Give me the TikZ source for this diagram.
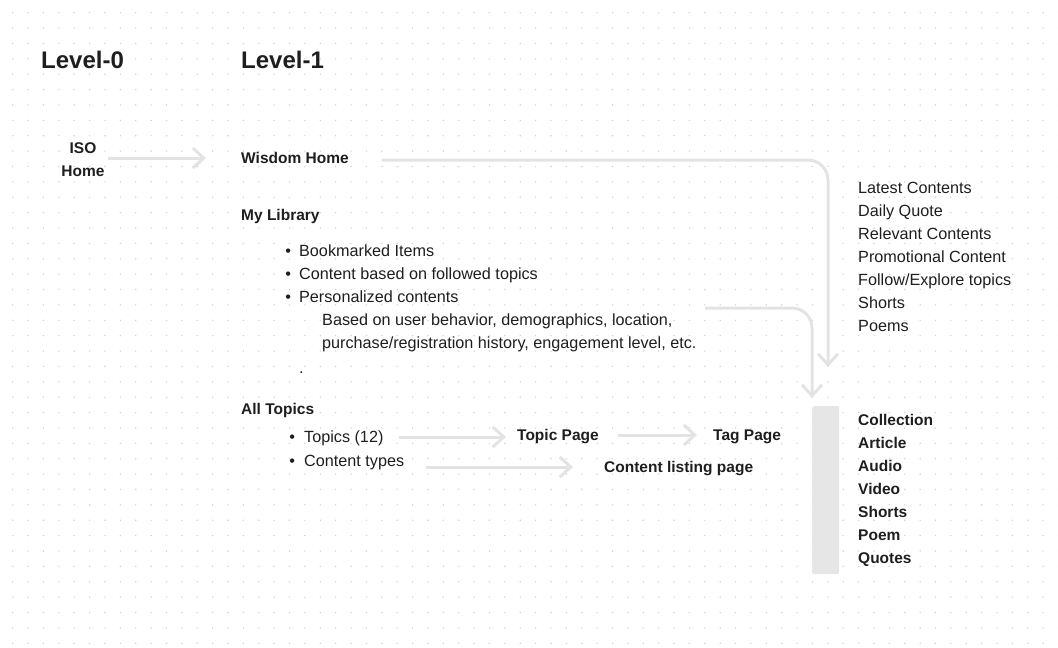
\documentclass[tikz,border=0pt]{standalone}
\usepackage{fontspec}
\setmainfont{Liberation Sans}
\usepackage{tikz}
\usetikzlibrary{arrows.meta}
\usetikzlibrary{calc}
\definecolor{ink}{HTML}{1E1E1E}
\definecolor{flowgray}{HTML}{E3E3E3}
\definecolor{dotgray}{HTML}{D2D2D2}
\definecolor{barfill}{HTML}{E6E6E6}
\tikzset{txt/.style={inner sep=0pt, text height=1.05em, text depth=0pt, anchor=west, text=ink, font=\fontsize{16.2}{23}\selectfont}}
\tikzset{head/.style={txt, font=\fontsize{15.5}{23}\selectfont\bfseries}}
\tikzset{title/.style={txt, text height=1.3em, font=\fontsize{24}{28}\selectfont\bfseries}}
\tikzset{isobox/.style={inner sep=0pt, align=center, text=ink, font=\fontsize{15.5}{23}\selectfont\bfseries}}
\tikzset{flow/.style={draw=flowgray, line width=3pt, -{Straight Barb[length=11pt,width=20pt]}}}

\begin{document}
\begin{tikzpicture}[x=1pt,y=-1pt]
  \useasboundingbox (0,0) rectangle (1058,648);
  % dot grid
  \foreach \i in {0,...,68} {
    \foreach \j in {0,...,41} {
      \fill[dotgray] (12.7+15.38*\i, 12.7+15.38*\j) circle[radius=0.8pt];
    }
  }

  \node[title] (lvl0) at (41,62) {Level-0};
  \node[title] (lvl1) at (241,62) {Level-1};

  \node[isobox] (iso) at (83,159.5) {ISO\\Home};
  \node[head] (wis) at (241,158) {Wisdom Home};
  \node[head] (lib) at (241,215) {My Library};

  \node[txt] (book) at (277,251) {\makebox[22pt][c]{\textbullet}Bookmarked Items};
  \node[txt] (foll) at (277,274) {\makebox[22pt][c]{\textbullet}Content based on followed topics};
  \node[txt] (pers) at (277,297) {\makebox[22pt][c]{\textbullet}Personalized contents};
  \node[txt] (based1) at (322,320) {Based on user behavior, demographics, location,};
  \node[txt] (based2) at (322,343) {purchase/registration history, engagement level, etc.};
  \node[txt] (stop) at (299,368) {.};

  \node[head] (all) at (241,409) {All Topics};
  \node[txt] (topics) at (280,437) {\makebox[24pt][c]{\textbullet}Topics (12)};
  \node[txt] (ctypes) at (280,461) {\makebox[24pt][c]{\textbullet}Content types};
  \node[head] (tpage) at (517,435) {Topic Page};
  \node[head] (tag) at (713,435) {Tag Page};
  \node[head] (clist) at (604,467) {Content listing page};

  % home page sections
  \foreach \txt [count=\k] in {
    Latest Contents,
    Daily Quote,
    Relevant Contents,
    Promotional Content,
    Follow/Explore topics,
    Shorts,
    Poems%
  } {
    \node[txt] (home\k) at (858, 165+23*\k) {\txt};
  }

  % content types
  \node[fill=barfill, rounded corners=2pt, inner sep=0pt, minimum width=27pt, minimum height=168pt, anchor=north west] (bar) at (812,406) {};
  \foreach \txt [count=\k] in {
    Collection,
    Article,
    Audio,
    Video,
    Shorts,
    Poem,
    Quotes%
  } {
    \node[head] (type\k) at (858, 397+23*\k) {\txt};
  }

  \coordinate (wisend) at (828,367);
  \coordinate (pstart) at (705,308);

  \draw[flow, shorten <=3pt, shorten >=35pt] (iso.east |- wis.west) -- (wis.west);
  \draw[flow, rounded corners=20pt, shorten <=33pt] ([yshift=-2pt]wis.east) -| (wisend);
  \draw[flow, rounded corners=20pt, shorten >=8pt] (pstart) -| (bar.north west);
  \draw[flow, shorten <=15pt, shorten >=11pt] (topics.east) -- (topics.east -| tpage.west);
  \draw[flow, shorten <=19pt, shorten >=16pt] (tpage.east) -- (tag.west);
  \draw[flow, shorten <=22pt, shorten >=31pt] (ctypes.east |- clist.west) -- (clist.west);
\end{tikzpicture}
\end{document}
